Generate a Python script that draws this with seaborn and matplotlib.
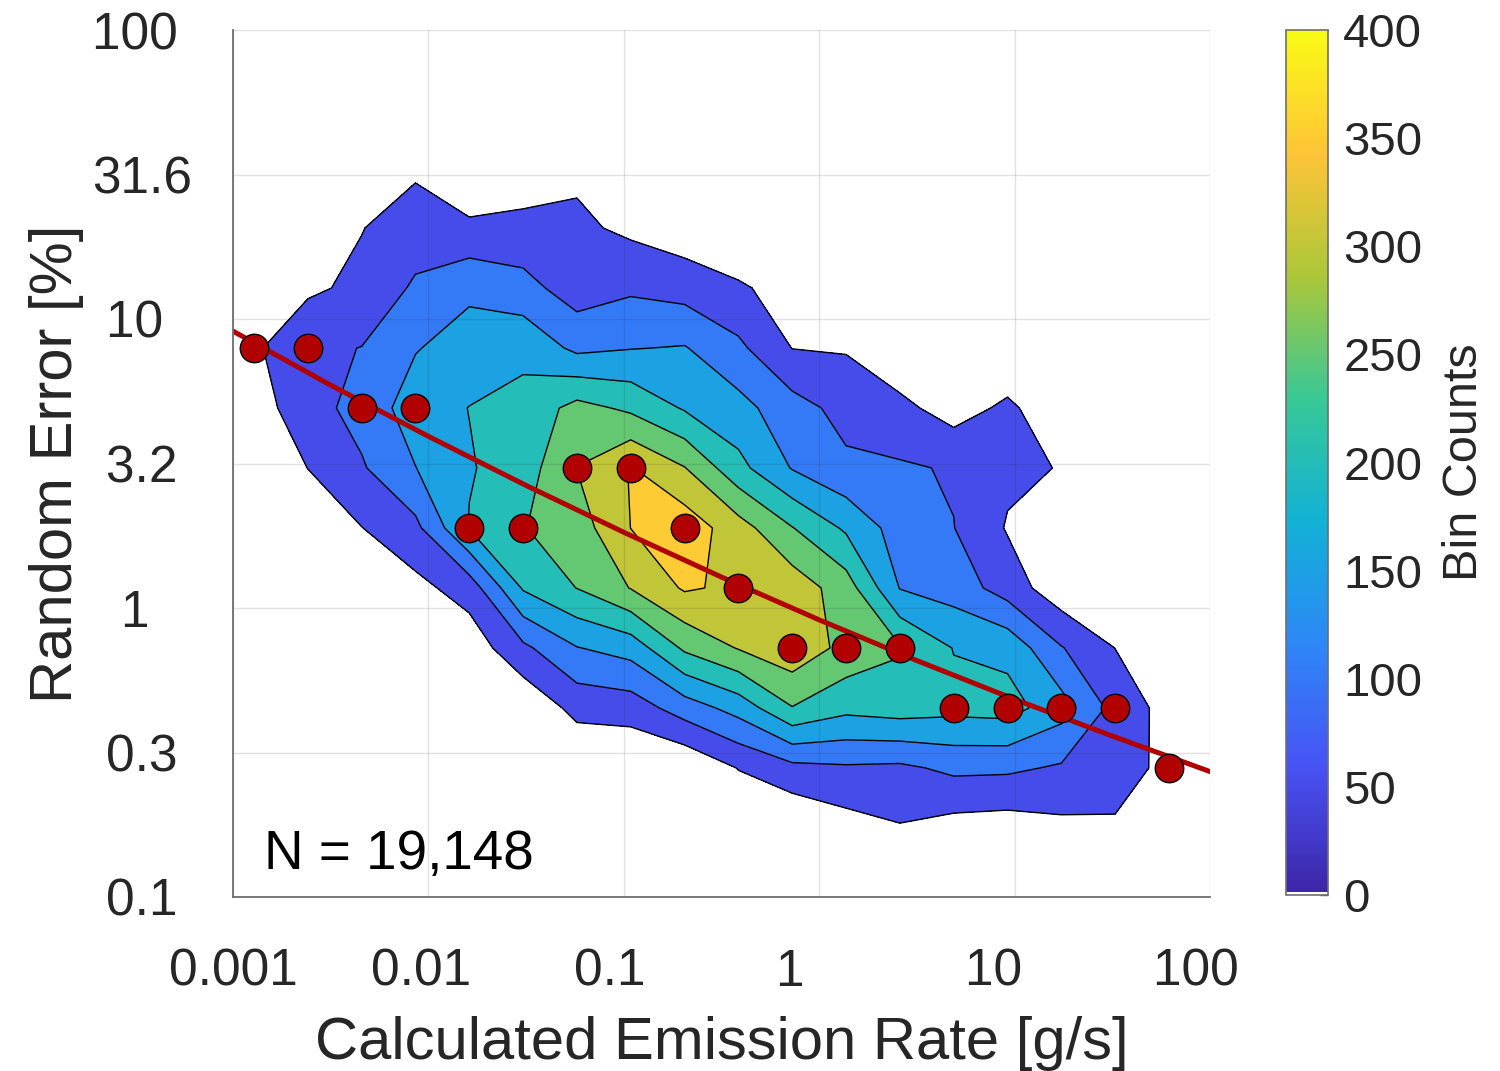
import numpy as np
import matplotlib
matplotlib.use("Agg")
import matplotlib.pyplot as plt
import seaborn as sns
from matplotlib.colors import LinearSegmentedColormap, ListedColormap, Normalize
from matplotlib.cm import ScalarMappable

# ---------------- data ----------------
# bin centres (log10 of emission rate [g/s]) and (log10 of random error [%])
x_centers_log = [-2.8925, -2.6171, -2.3416, -2.0662, -1.7907, -1.5153, -1.2398, -0.9644,
                 -0.6889, -0.4135, -0.1380, 0.1375, 0.4129, 0.6884, 0.9638, 1.2393,
                 1.5147, 1.7902]
y_centers_log = [1.5225, 1.3149, 1.1073, 0.8997, 0.6921, 0.4845, 0.2769, 0.0693,
                 -0.1383, -0.3459, -0.5535, -0.7611, -0.9687]

# bin counts: one row per y bin (top to bottom), one column per x bin
counts_r0 = [3, 5, 20, 41.9, 5, 18, 40, 10, 5, 2, 0, 0, 0, 0, 0, 0, 0, 0]
counts_r1 = [10, 15, 48.4, 74.5, 60, 65, 60, 39.5, 20, 5, 2, 0, 0, 0, 0, 0, 0, 0]
counts_r2 = [25, 41.2, 61.2, 107.6, 140, 117.5, 75, 92, 80, 56.8, 30, 10, 3, 0, 0, 0, 0, 0]
counts_r3 = [41.8, 90, 101, 147, 172, 188, 138, 148, 153, 110.6, 49, 46, 11, 10, 5, 5, 0, 0]
counts_r4 = [26.4, 80, 117.7, 175, 201, 215, 267, 240, 195, 167, 120, 83, 63, 28, 60, 14.5, 3, 0]
counts_r5 = [12, 50.5, 94.7, 149, 196, 225, 301, 353, 302, 215, 147, 110, 106, 95.8, 60, 48, 8, 0]
counts_r6 = [5, 20, 49, 87, 203, 248, 275, 350.5, 380, 322, 252, 192, 127, 101, 46, 15, 5, 0]
counts_r7 = [2, 8, 15, 35.6, 71.5, 205, 251, 302, 356, 340, 329, 275, 148, 128, 77, 18, 20, 3]
counts_r8 = [0, 2, 5, 15, 20, 89, 148, 170, 259, 303, 335, 285, 255, 198, 185, 103, 49.5, 10]
counts_r9 = [0, 0, 0, 5, 5, 8, 66, 73, 124, 169, 248, 214, 224, 215, 220, 170, 83, 31]
counts_r10 = [0, 0, 0, 0, 0, 0, 0, 0, 4, 52, 85.6, 93.5, 90, 111, 109, 94, 70, 38]
counts_r11 = [0, 0, 0, 0, 0, 0, 0, 0, 0, 0, 1, 28.5, 46.5, 30, 25, 37.6, 44, 15]
counts_r12 = [0, 0, 0, 0, 0, 0, 0, 0, 0, 0, 0, 5, 10, 8, 5, 8, 10, 5]

contour_levels = [50, 100, 150, 200, 250, 300, 350, 400]

# fitted curve (log10 x, log10 y)
fit_x_log = [-3.0, -2.5, -2.0, -1.5, -1.0, -0.5, 0.0, 0.5, 1.0, 1.5, 2.0]
fit_y_log = [0.958, 0.771, 0.594, 0.424, 0.262, 0.107, -0.041, -0.182, -0.316, -0.443, -0.566]

# tick labels (padded to equal length, as in the original figure)
x_tick_pos = [-3, -2, -1, 0, 1, 2]
x_tick_labels = ["0.001", "0.01 ", "0.1  ", "1    ", "10   ", "100  "]
y_tick_pos = [-1, -0.5, 0, 0.5, 1, 1.5, 2]
y_tick_labels = ["0.1 ", "0.3 ", "1   ", "3.2 ", "10  ", "31.6", "100 "]
cbar_ticks = [0, 50, 100, 150, 200, 250, 300, 350, 400]
n_text = "N = 19,148"

# ---------------- colormap (parula-like) ----------------
parula_anchors = [(0.2422, 0.1504, 0.6603), (0.2810, 0.3228, 0.9579),
                  (0.1786, 0.5289, 0.9682), (0.0689, 0.6948, 0.8394),
                  (0.2161, 0.7843, 0.5923), (0.6720, 0.7793, 0.2227),
                  (0.9970, 0.7659, 0.2199), (0.9769, 0.9839, 0.0805)]
parula = LinearSegmentedColormap.from_list("parula", parula_anchors, N=255)
cmap_colors = [(1, 1, 1, 1)] + [parula(i / 254) for i in range(255)]
cmap = ListedColormap(cmap_colors)
norm = Normalize(0, 400)

# ---------------- figure ----------------
sns.set_theme(style="white")
plt.rcParams['font.family'] = ['Liberation Sans', 'DejaVu Sans']
text_col = "#262626"

fig = plt.figure(figsize=(15, 10.71), dpi=100)
ax = fig.add_axes([233 / 1500, 1 - 897 / 1071, 977 / 1500, 867 / 1071])

Z = np.array([counts_r0, counts_r1, counts_r2, counts_r3, counts_r4, counts_r5, counts_r6,
              counts_r7, counts_r8, counts_r9, counts_r10, counts_r11, counts_r12])
X, Y = np.meshgrid(x_centers_log, y_centers_log)

fill_colors = [parula(norm(l)) for l in contour_levels[:-1]]
ax.contourf(X, Y, Z, levels=contour_levels, colors=fill_colors, zorder=1)
ax.contour(X, Y, Z, levels=contour_levels[:-1], colors="black", linewidths=1.0, zorder=2)

# fit line
sns.lineplot(x=fit_x_log, y=fit_y_log, ax=ax, color="#b00000", linewidth=3.6,
             zorder=5, sort=False, estimator=None)

# mode of each x column
mode_rows = Z.argmax(axis=0)
mode_y = [y_centers_log[r] for r in mode_rows]
sns.scatterplot(x=x_centers_log, y=mode_y, ax=ax, s=420, color="#b00000",
                edgecolor="black", linewidth=1.0, zorder=6)

ax.set_xlim(-3, 2)
ax.set_ylim(-1, 2)
ax.set_xticks(x_tick_pos)
ax.set_xticklabels(x_tick_labels)
ax.set_yticks(y_tick_pos)
ax.set_yticklabels(y_tick_labels, ha="right")

ax.grid(True, color="#262626", alpha=0.13, linewidth=1.0)
ax.set_axisbelow(False)
for s in ["top", "right"]:
    ax.spines[s].set_visible(False)
for s in ["left", "bottom"]:
    ax.spines[s].set_color("#6e6e6e")
    ax.spines[s].set_linewidth(1.3)
    ax.spines[s].set_zorder(7)

ax.tick_params(axis="both", direction="out", length=16.5, width=1.0, color="#555555",
               labelsize=37, labelcolor=text_col)
ax.tick_params(axis="x", pad=20)
ax.tick_params(axis="y", pad=13)

ax.set_xlabel("Calculated Emission Rate [g/s]", fontsize=43, color=text_col, labelpad=14)
ax.set_ylabel("Random Error [%]", fontsize=43, color=text_col, labelpad=6)
ax.text(-2.84, -0.855, n_text, fontsize=39.5, color="black", ha="left", va="center", zorder=8)

# colorbar
cax = fig.add_axes([1286 / 1500, 1 - 895 / 1071, 42 / 1500, 865 / 1071])
sm = ScalarMappable(norm=norm, cmap=cmap)
cb = fig.colorbar(sm, cax=cax)
cb.set_ticks(cbar_ticks)
cb.outline.set_edgecolor("#6e6e6e")
cb.outline.set_linewidth(1.2)
cax.tick_params(direction="in", length=6, width=1.0, color="#555555",
                labelsize=34, labelcolor=text_col, pad=11)
cb.set_label("Bin Counts", fontsize=35, color=text_col, labelpad=14)

fig.savefig("out.png", dpi=100, facecolor="white")
